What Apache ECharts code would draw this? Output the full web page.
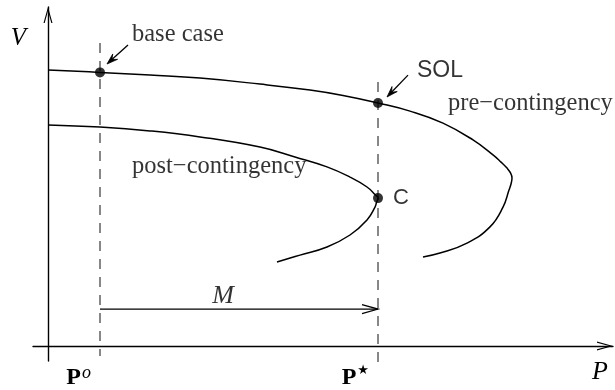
<!DOCTYPE html>
<html>
<head>
<meta charset="utf-8">
<script src="https://cdn.jsdelivr.net/npm/echarts@6/dist/echarts.min.js"></script>
<style>
  html, body { margin: 0; padding: 0; background: #fff; }
  #chart { width: 615px; height: 390px; }
</style>
</head>
<body>
<div id="chart"></div>
<script>
// P–V (nose) curves of the system before and after the contingency, [P, V]
const preContingency = [
  [0, 0.920], [1.04, 0.912], [2.04, 0.903], [3.04, 0.893], [4.24, 0.873],
  [5.24, 0.853], [5.9, 0.835], [6.6, 0.810], [7.24, 0.783], [7.9, 0.743],
  [8.5, 0.687], [8.9, 0.637], [9.06, 0.613], [9.18, 0.593], [9.25, 0.577],
  [9.28, 0.560], [9.26, 0.540], [9.22, 0.520], [9.1, 0.463], [8.84, 0.397],
  [8.38, 0.343], [7.84, 0.310], [7.5, 0.297]
];
const postContingency = [
  [0, 0.737], [1.04, 0.730], [2.04, 0.717], [3.04, 0.697], [4.24, 0.663],
  [4.94, 0.630], [5.58, 0.597], [6.04, 0.563], [6.38, 0.530], [6.54, 0.505],
  [6.6, 0.493], [6.57, 0.478], [6.54, 0.463], [6.38, 0.420], [6.04, 0.370],
  [5.58, 0.330], [5.04, 0.303], [4.58, 0.280]
];

// Operating load P° and the security limit P*
const pBase = 1.04;
const pStar = 6.6;

// Marked operating points
const vBase = 0.912;      // base case on the pre-contingency curve
const vSOL = 0.810;       // security operating limit
const vCollapse = 0.493;  // nose of the post-contingency curve (C)

// Vertical extents of the dashed guides at P° and P*
const baseGuide = [1.01, -0.033];
const starGuide = [0.88, -0.06];

// Level of the margin arrow M
const vMargin = 0.123;

// Pointer arrows [P1, V1, P2, V2]
const pointers = [
  [1.60, 1.003, 1.18, 0.940],
  [7.20, 0.903, 6.78, 0.830]
];
const marginArrow = [[pBase, vMargin, pStar, vMargin]];

const SERIF = '"Liberation Serif", "DejaVu Serif", serif';
const SANS = '"Liberation Sans", "DejaVu Sans", sans-serif';
const INK = '#000';

// Open chevron used at the axis ends (tip up)
const chevron = 'path://M45,0 L90,160 L78,160 L45,40 L12,160 L0,160 Z';

function arrowRenderer(headLen, headHalf, open) {
  return function (params, api) {
    const a = api.coord([api.value(0), api.value(1)]);
    const b = api.coord([api.value(2), api.value(3)]);
    const ang = Math.atan2(b[1] - a[1], b[0] - a[0]);
    const c = Math.cos(ang), s = Math.sin(ang);
    const l = [b[0] - headLen * c + headHalf * s, b[1] - headLen * s - headHalf * c];
    const r = [b[0] - headLen * c - headHalf * s, b[1] - headLen * s + headHalf * c];
    const head = open
      ? { type: 'polyline', shape: { points: [l, b, r] },
          style: { stroke: INK, fill: null, lineWidth: 1.3 } }
      : { type: 'polygon',
          shape: { points: [l, b, r, [b[0] - headLen * 0.6 * c, b[1] - headLen * 0.6 * s]] },
          style: { fill: INK, stroke: INK, lineWidth: 0.8 } };
    return {
      type: 'group',
      children: [
        { type: 'line', shape: { x1: a[0], y1: a[1], x2: b[0] - (open ? 0 : headLen * 0.5 * c), y2: b[1] - (open ? 0 : headLen * 0.5 * s) },
          style: { stroke: INK, lineWidth: 1.3 } },
        head
      ]
    };
  };
}

const chart = echarts.init(document.getElementById('chart'), null, { renderer: 'canvas' });

chart.setOption({
  animation: false,
  backgroundColor: '#fff',
  grid: { left: 33, right: 2, top: 7, bottom: 29, containLabel: false, outerBoundsMode: 'none' },
  xAxis: {
    type: 'value', min: -0.3, max: 11.3,
    name: 'P', nameLocation: 'end', nameGap: -21,
    nameTextStyle: { fontFamily: SERIF, fontStyle: 'italic', fontSize: 26, color: INK,
      align: 'left', verticalAlign: 'top', padding: [13, 0, 0, 0] },
    axisLine: { onZero: true, symbol: ['none', chevron], symbolSize: [9, 16], symbolOffset: [0, -8],
      lineStyle: { color: INK, width: 1.4 } },
    axisTick: { show: false },
    splitLine: { show: false },
    axisLabel: {
      customValues: [pBase, pStar],
      align: 'right', margin: 3, padding: [0, 9, 0, 0],
      formatter: v => (v === pBase ? '{b|P}{o|o}' : '{b|P}{s|★}'),
      rich: {
        b: { fontFamily: SERIF, fontWeight: 'bold', fontSize: 24, lineHeight: 26, color: INK, verticalAlign: 'bottom' },
        o: { fontFamily: SERIF, fontStyle: 'italic', fontSize: 18, lineHeight: 12, color: INK, verticalAlign: 'top', padding: [0, 0, 0, 1] },
        s: { fontFamily: '"DejaVu Sans", sans-serif', fontSize: 13, lineHeight: 14, color: INK, verticalAlign: 'top', padding: [0, 0, 0, 1] }
      }
    }
  },
  yAxis: {
    type: 'value', min: -0.05, max: 1.13,
    name: 'V', nameLocation: 'end', nameGap: -31,
    nameTextStyle: { fontFamily: SERIF, fontStyle: 'italic', fontSize: 25, color: INK,
      align: 'right', verticalAlign: 'middle', padding: [0, 22, 0, 0] },
    axisLine: { onZero: true, symbol: ['none', chevron], symbolSize: [9, 16], symbolOffset: [0, -8],
      lineStyle: { color: INK, width: 1.4 } },
    axisTick: { show: false },
    axisLabel: { show: false },
    splitLine: { show: false }
  },
  series: [
    {
      name: 'guide P°', type: 'line', clip: false, silent: true, symbol: 'none',
      data: [[pBase, baseGuide[0]], [pBase, baseGuide[1]]],
      lineStyle: { color: '#555', width: 1.4, type: [10, 8] }
    },
    {
      name: 'guide P*', type: 'line', clip: false, silent: true, symbol: 'none',
      data: [[pStar, starGuide[0]], [pStar, starGuide[1]]],
      lineStyle: { color: '#555', width: 1.4, type: [10, 8] }
    },
    {
      name: 'pre-contingency', type: 'line', smooth: 0.45, symbol: 'none', silent: true,
      data: preContingency, lineStyle: { color: INK, width: 1.5 }
    },
    {
      name: 'post-contingency', type: 'line', smooth: 0.45, symbol: 'none', silent: true,
      data: postContingency, lineStyle: { color: INK, width: 1.5 }
    },
    {
      name: 'operating points', type: 'scatter', symbolSize: 10, z: 5, silent: true,
      itemStyle: { color: INK },
      data: [[pBase, vBase], [pStar, vSOL], [pStar, vCollapse]]
    },
    {
      name: 'pointers', type: 'custom', silent: true, z: 4,
      renderItem: arrowRenderer(11, 3.6, false),
      encode: { x: [0, 2], y: [1, 3] },
      data: pointers
    },
    {
      name: 'margin', type: 'custom', silent: true, z: 4,
      renderItem: arrowRenderer(16, 4.5, true),
      encode: { x: [0, 2], y: [1, 3] },
      data: marginArrow
    },
    {
      name: 'annotations', type: 'scatter', symbolSize: 0, silent: true, z: 6,
      label: {
        show: true, position: 'inside', align: 'left', verticalAlign: 'middle',
        formatter: p => p.name, color: INK, fontFamily: SERIF, fontSize: 24.5
      },
      data: [
        { name: 'base case', value: [1.68, 1.037] },
        { name: 'pre−contingency', value: [8.0, 0.807] },
        { name: 'post−contingency', value: [1.68, 0.597] },
        { name: 'SOL', value: [7.38, 0.917], label: { fontFamily: SANS, fontSize: 23 } },
        { name: 'C', value: [6.9, 0.495], label: { fontFamily: SANS, fontSize: 22 } },
        { name: 'M', value: [3.5, 0.165], label: { align: 'center', fontStyle: 'italic', fontSize: 26 } }
      ]
    }
  ]
});
</script>
</body>
</html>
